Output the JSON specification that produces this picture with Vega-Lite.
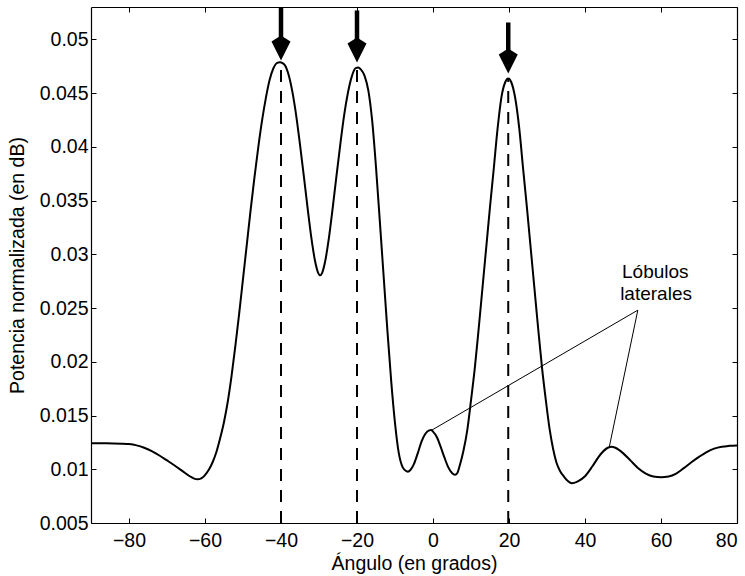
{
  "$schema": "https://vega.github.io/schema/vega-lite/v6.json",
  "width": 646,
  "height": 516,
  "autosize": {"type": "none"},
  "padding": {"left": 91, "top": 7, "right": 8, "bottom": 53},
  "background": "white",
  "view": {"stroke": null},
  "config": {
    "font": "Liberation Sans",
    "axis": {
      "grid": false,
      "domainColor": "black",
      "domainWidth": 1.2,
      "tickColor": "black",
      "tickWidth": 1,
      "tickSize": -5,
      "labelColor": "black",
      "labelFont": "Liberation Sans",
      "labelFontSize": 19.5,
      "titleColor": "black",
      "titleFont": "Liberation Sans",
      "titleFontSize": 19.5,
      "titleFontWeight": "normal"
    }
  },
  "datasets": {
    "curve": [
      {"angle": -90, "power": 0.01241}, {"angle": -86, "power": 0.01241}, {"angle": -82, "power": 0.01238},
      {"angle": -80, "power": 0.01234}, {"angle": -78, "power": 0.01222}, {"angle": -76, "power": 0.012},
      {"angle": -74, "power": 0.01168}, {"angle": -72, "power": 0.01128}, {"angle": -70, "power": 0.01082},
      {"angle": -68, "power": 0.01035}, {"angle": -66, "power": 0.00985}, {"angle": -64, "power": 0.00935},
      {"angle": -63, "power": 0.00915}, {"angle": -62, "power": 0.00906}, {"angle": -61, "power": 0.00915},
      {"angle": -60, "power": 0.00946}, {"angle": -59, "power": 0.00995}, {"angle": -58, "power": 0.01065},
      {"angle": -57, "power": 0.0116}, {"angle": -56, "power": 0.0129}, {"angle": -55, "power": 0.0144},
      {"angle": -54, "power": 0.0163}, {"angle": -53, "power": 0.0187}, {"angle": -52, "power": 0.0215},
      {"angle": -51, "power": 0.0245}, {"angle": -50, "power": 0.0277}, {"angle": -49, "power": 0.0309},
      {"angle": -48, "power": 0.0341}, {"angle": -47, "power": 0.0371}, {"angle": -46, "power": 0.0399},
      {"angle": -45, "power": 0.0424}, {"angle": -44, "power": 0.0445}, {"angle": -43, "power": 0.0462},
      {"angle": -42, "power": 0.0473}, {"angle": -41, "power": 0.0478}, {"angle": -40.3, "power": 0.04785},
      {"angle": -39.5, "power": 0.04775}, {"angle": -39, "power": 0.0476}, {"angle": -38, "power": 0.0467},
      {"angle": -37, "power": 0.0451}, {"angle": -36, "power": 0.0429}, {"angle": -35, "power": 0.0402},
      {"angle": -34, "power": 0.0373}, {"angle": -33, "power": 0.0343}, {"angle": -32, "power": 0.0315},
      {"angle": -31, "power": 0.0293}, {"angle": -30.2, "power": 0.02825}, {"angle": -29.7, "power": 0.02805},
      {"angle": -29.2, "power": 0.02825}, {"angle": -28.4, "power": 0.0293}, {"angle": -27.4, "power": 0.0315},
      {"angle": -26.4, "power": 0.0343}, {"angle": -25.4, "power": 0.0373}, {"angle": -24.4, "power": 0.0402},
      {"angle": -23.4, "power": 0.0429}, {"angle": -22.4, "power": 0.045}, {"angle": -21.4, "power": 0.0465},
      {"angle": -20.4, "power": 0.0473}, {"angle": -19.7, "power": 0.04738}, {"angle": -19, "power": 0.0472},
      {"angle": -18, "power": 0.0466}, {"angle": -17, "power": 0.0452}, {"angle": -16, "power": 0.0424},
      {"angle": -15, "power": 0.0381}, {"angle": -14, "power": 0.0331}, {"angle": -13, "power": 0.028},
      {"angle": -12, "power": 0.0229}, {"angle": -11, "power": 0.0182}, {"angle": -10, "power": 0.0143},
      {"angle": -9, "power": 0.0115}, {"angle": -8, "power": 0.0102}, {"angle": -7, "power": 0.00982},
      {"angle": -6.6, "power": 0.00977}, {"angle": -6, "power": 0.0099}, {"angle": -5, "power": 0.0105},
      {"angle": -4, "power": 0.0115}, {"angle": -3, "power": 0.0126}, {"angle": -2, "power": 0.0133},
      {"angle": -1, "power": 0.01362}, {"angle": -0.5, "power": 0.01365}, {"angle": 0, "power": 0.0135},
      {"angle": 1, "power": 0.013}, {"angle": 2, "power": 0.0121}, {"angle": 3, "power": 0.0111},
      {"angle": 4, "power": 0.0102}, {"angle": 5, "power": 0.00965}, {"angle": 5.8, "power": 0.00948},
      {"angle": 6.4, "power": 0.00965}, {"angle": 7, "power": 0.0103}, {"angle": 8, "power": 0.0117},
      {"angle": 9, "power": 0.0136}, {"angle": 10, "power": 0.0164}, {"angle": 11, "power": 0.0194},
      {"angle": 12, "power": 0.023}, {"angle": 13, "power": 0.0268}, {"angle": 14, "power": 0.0306},
      {"angle": 15, "power": 0.0344}, {"angle": 16, "power": 0.038}, {"angle": 17, "power": 0.0417},
      {"angle": 18, "power": 0.0446}, {"angle": 19, "power": 0.046}, {"angle": 19.8, "power": 0.04635},
      {"angle": 20.6, "power": 0.046}, {"angle": 21.6, "power": 0.0446}, {"angle": 22.7, "power": 0.0417},
      {"angle": 23.7, "power": 0.038}, {"angle": 24.7, "power": 0.0344}, {"angle": 25.7, "power": 0.0306},
      {"angle": 26.7, "power": 0.0268}, {"angle": 27.7, "power": 0.023}, {"angle": 28.7, "power": 0.0194},
      {"angle": 29.7, "power": 0.0164}, {"angle": 30.7, "power": 0.0137}, {"angle": 31.6, "power": 0.0119},
      {"angle": 32.5, "power": 0.0106}, {"angle": 33.5, "power": 0.0098}, {"angle": 34.5, "power": 0.0093},
      {"angle": 35.5, "power": 0.0089}, {"angle": 36.5, "power": 0.00869}, {"angle": 38, "power": 0.00885},
      {"angle": 40, "power": 0.00935}, {"angle": 42, "power": 0.0103}, {"angle": 44, "power": 0.01135},
      {"angle": 46, "power": 0.012}, {"angle": 47, "power": 0.0121}, {"angle": 48, "power": 0.012},
      {"angle": 50, "power": 0.0115}, {"angle": 52, "power": 0.0108}, {"angle": 54, "power": 0.0101},
      {"angle": 56, "power": 0.0096}, {"angle": 58, "power": 0.00932}, {"angle": 60, "power": 0.00925},
      {"angle": 62, "power": 0.00932}, {"angle": 64, "power": 0.0096}, {"angle": 66, "power": 0.0101},
      {"angle": 68, "power": 0.01065}, {"angle": 70, "power": 0.01115}, {"angle": 72, "power": 0.0116},
      {"angle": 74, "power": 0.01192}, {"angle": 76, "power": 0.0121}, {"angle": 78, "power": 0.01218},
      {"angle": 80, "power": 0.01222}
    ],
    "peaks": [
      {"angle": -40, "bottom": 0.005, "peak": 0.0478, "arrowTop": 0.053, "arrowTip": 0.04803},
      {"angle": -20, "bottom": 0.005, "peak": 0.0474, "arrowTop": 0.05268, "arrowTip": 0.04784},
      {"angle": 19.8, "bottom": 0.005, "peak": 0.0464, "arrowTop": 0.05156, "arrowTip": 0.04682}
    ],
    "pointers": [
      {"fromAngle": 53.9, "fromPower": 0.0248, "toAngle": -0.3, "toPower": 0.01364},
      {"fromAngle": 53.9, "fromPower": 0.0248, "toAngle": 46.4, "toPower": 0.01209}
    ],
    "labels": [
      {"angle": 58.5, "power": 0.02777, "text": "Lóbulos"},
      {"angle": 58.7, "power": 0.02572, "text": "laterales"}
    ]
  },
  "layer": [
    {
      "data": {"name": "curve"},
      "mark": {"type": "line", "color": "black", "strokeWidth": 2, "interpolate": "monotone", "clip": true},
      "encoding": {
        "x": {
          "field": "angle", "type": "quantitative",
          "scale": {"domain": [-90, 80], "nice": false, "zero": false},
          "axis": {"orient": "bottom", "values": [-80, -60, -40, -20, 0, 20, 40, 60, 80], "labelPadding": 13, "title": "Ángulo (en grados)", "titlePadding": 5}
        },
        "y": {
          "field": "power", "type": "quantitative",
          "scale": {"domain": [0.005, 0.053], "nice": false, "zero": false},
          "axis": {"orient": "left", "values": [0.005, 0.01, 0.015, 0.02, 0.025, 0.03, 0.035, 0.04, 0.045, 0.05], "format": "~g", "labelPadding": 8, "title": "Potencia normalizada (en dB)", "titleAngle": -90, "titleAlign": "center", "titleBaseline": "middle", "titleX": -74, "titleY": 258}
        }
      }
    },
    {
      "data": {"name": "curve"},
      "mark": {"type": "line", "opacity": 0},
      "encoding": {
        "x": {"field": "angle", "type": "quantitative", "axis": {"orient": "top", "values": [-80, -60, -40, -20, 0, 20, 40, 60, 80], "labels": false, "title": null}},
        "y": {"field": "power", "type": "quantitative", "axis": {"orient": "right", "values": [0.005, 0.01, 0.015, 0.02, 0.025, 0.03, 0.035, 0.04, 0.045, 0.05], "labels": false, "title": null}}
      }
    },
    {
      "data": {"name": "peaks"},
      "mark": {"type": "rule", "color": "black", "strokeWidth": 2, "strokeDash": [12, 9]},
      "encoding": {
        "x": {"field": "angle", "type": "quantitative", "axis": null},
        "y": {"field": "bottom", "type": "quantitative", "axis": null},
        "y2": {"field": "peak"}
      }
    },
    {
      "data": {"name": "peaks"},
      "mark": {"type": "rule", "color": "black", "strokeWidth": 4.5, "y2Offset": -17},
      "encoding": {
        "x": {"field": "angle", "type": "quantitative", "axis": null},
        "y": {"field": "arrowTop", "type": "quantitative", "axis": null},
        "y2": {"field": "arrowTip"}
      }
    },
    {
      "data": {"name": "peaks"},
      "mark": {"type": "point", "shape": "M0,0L-9.5,-19L0,-25L9.5,-19Z", "size": 4, "filled": true, "color": "black", "opacity": 1, "strokeWidth": 0},
      "encoding": {
        "x": {"field": "angle", "type": "quantitative", "axis": null},
        "y": {"field": "arrowTip", "type": "quantitative", "axis": null}
      }
    },
    {
      "data": {"name": "pointers"},
      "mark": {"type": "rule", "color": "black", "strokeWidth": 1},
      "encoding": {
        "x": {"field": "fromAngle", "type": "quantitative", "axis": null},
        "y": {"field": "fromPower", "type": "quantitative", "axis": null},
        "x2": {"field": "toAngle"},
        "y2": {"field": "toPower"}
      }
    },
    {
      "data": {"name": "labels"},
      "mark": {"type": "text", "font": "Liberation Sans", "fontSize": 19, "align": "center", "baseline": "alphabetic", "color": "black"},
      "encoding": {
        "x": {"field": "angle", "type": "quantitative", "axis": null},
        "y": {"field": "power", "type": "quantitative", "axis": null},
        "text": {"field": "text"}
      }
    }
  ],
  "resolve": {"axis": {"x": "independent", "y": "independent"}}
}
